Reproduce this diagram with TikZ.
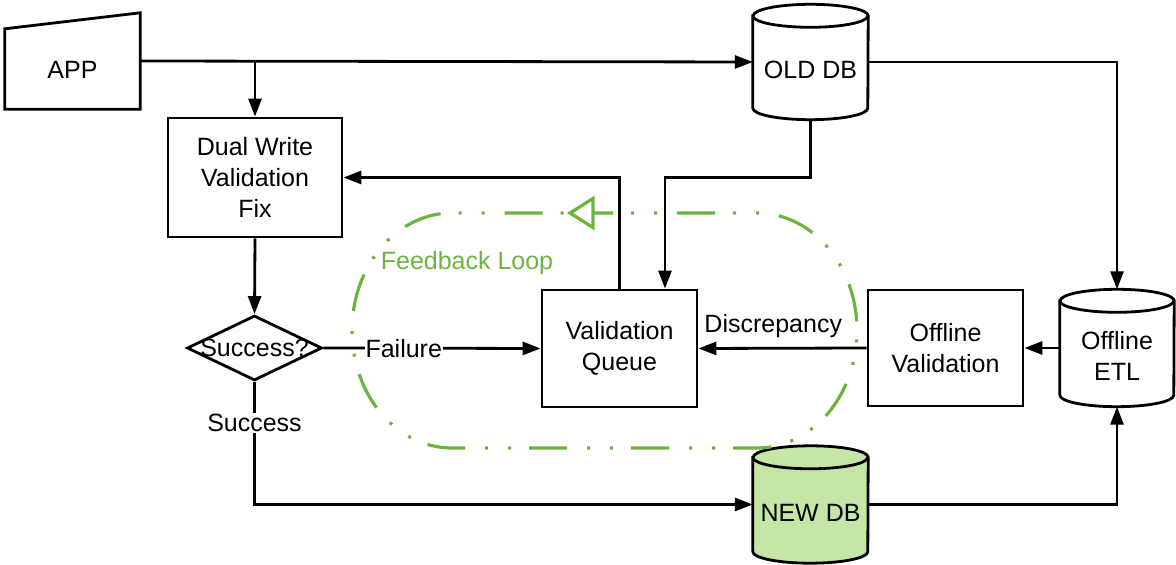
\documentclass[tikz,border=0pt]{standalone}
\usepackage{fontspec}
\setmainfont{Liberation Sans}
\usetikzlibrary{arrows.meta,shapes.geometric,calc,backgrounds}
\definecolor{loopgreen}{RGB}{109,179,63}
\definecolor{dbgreen}{RGB}{197,230,166}
\newcommand{\drawcyl}[3]{%
  \draw[line width=2.8pt, fill=#3] ([yshift=-11.5pt]#1.north west) -- ([yshift=11.5pt]#1.south west)
    arc[start angle=180,end angle=360,x radius=#2,y radius=11.5pt]
    -- ([yshift=-11.5pt]#1.north east)
    arc[start angle=0,end angle=180,x radius=#2,y radius=11.5pt] -- cycle;
  \draw[line width=2.8pt] ([yshift=-11.5pt]#1.north west)
    arc[start angle=180,end angle=360,x radius=#2,y radius=11.5pt];}
\begin{document}
\begin{tikzpicture}[x=1pt,y=1pt,font=\fontsize{25}{31}\selectfont,
  box/.style={draw, line width=2.8pt, align=center, inner sep=0pt},
  cylbox/.style={inner sep=0pt},
  arr/.style={line width=2.8pt, -{Triangle[length=18pt,width=13pt]}},
  lbl/.style={fill=white, inner sep=1pt},
  loopline/.style={loopgreen, line width=3.2pt, dash pattern=on 38pt off 18pt on 3pt off 20pt on 3pt off 20pt}]
\useasboundingbox (0,0) rectangle (1176,565);

% nodes
\node[inner sep=0pt, minimum width=135pt, minimum height=96pt,
      label={[yshift=-9pt]center:APP}] (app) at (72.5,504) {};
\node[box, minimum width=174pt, minimum height=119pt] (dw) at (255,387.5) {Dual Write\\Validation\\Fix};
\node[box, minimum width=155pt, minimum height=117pt] (vq) at (619.5,216.5) {Validation\\Queue};
\node[box, minimum width=155pt, minimum height=116pt] (ov) at (945.5,217) {Offline\\Validation};
\node[diamond, draw, line width=2.8pt, minimum width=135pt, minimum height=65pt, inner sep=0pt,
      label={center:Success?}] (dia) at (254.5,217) {};
\node[cylbox, minimum width=115pt, minimum height=115pt,
      label={[yshift=-8pt]center:OLD DB}] (olddb) at (810.5,503) {};
\node[cylbox, minimum width=115pt, minimum height=117pt,
      label={[yshift=-8pt]center:NEW DB}] (newdb) at (810.5,60.5) {};
\node[cylbox, minimum width=114pt, minimum height=117pt,
      label={[align=center,yshift=-8pt]center:Offline\\ETL}] (etl) at (1117,217) {};

\begin{scope}[on background layer]
  \draw[line width=2.8pt] (app.south west) -- ([yshift=-16pt]app.north west) -- (app.north east) -- (app.south east) -- cycle;
  \drawcyl{olddb}{57.5pt}{white}
  \drawcyl{newdb}{57.5pt}{dbgreen}
  \drawcyl{etl}{57pt}{white}
\end{scope}

% connectors
\draw[arr] (app.east) -- (olddb.west);
\draw[arr] (app.east -| dw.north) -- (dw.north);
\draw[arr] (olddb.east) -| (etl.north);
\draw[arr] (olddb.south) -- (olddb.south |- dw.east) -| ([xshift=45.5pt]vq.north);
\draw[arr] (vq.north) |- (dw.east);
\draw[arr] (dw.south) -- (dia.north);
\draw[arr] (dia.east) -- node[lbl, pos=0.37] {Failure} (vq.west);
\draw[arr] (dia.south) |- node[lbl, pos=0.167] {Success} (newdb.west);
\draw[arr] (newdb.east) -| (etl.south);
\draw[arr] (etl.west) -- (ov.east);
\draw[arr] (ov.west) -- node[pos=0.555, yshift=22pt] {Discrepancy} (vq.east);

% feedback loop
\draw[loopline] (575,352) -- (757,352)
  arc[start angle=90, end angle=-90, x radius=100pt, y radius=117.5pt]
  -- (452,117)
  arc[start angle=270, end angle=90, x radius=100pt, y radius=117.5pt] -- cycle;
\draw[loopgreen, line width=3.2pt, fill=white, line join=miter] (570,352) -- (593,366.5) -- (593,337.5) -- cycle;
\node[text=loopgreen] (fl) at (467,302) {Feedback Loop};
\end{tikzpicture}
\end{document}
